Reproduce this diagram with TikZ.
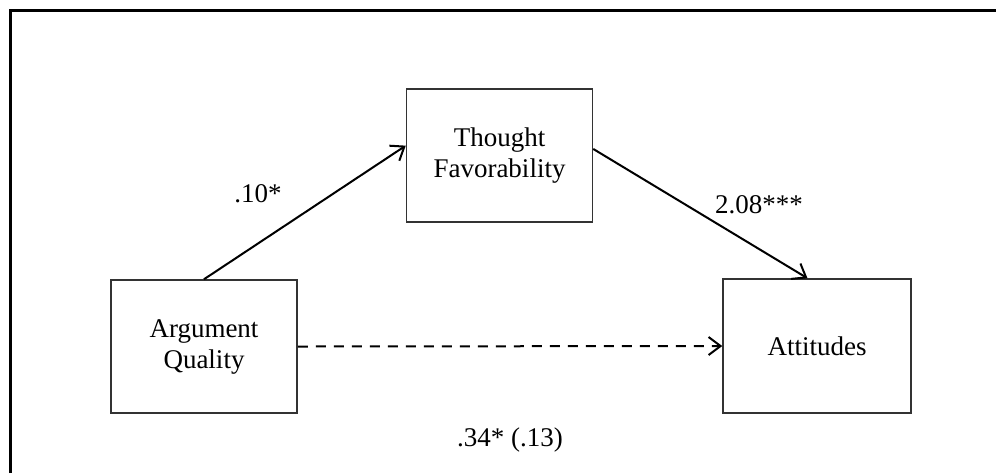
\documentclass[tikz,border=0pt]{standalone}
\usepackage{fontspec}
\setmainfont{Liberation Serif}
\usetikzlibrary{arrows.meta}

\begin{document}
\begin{tikzpicture}[x=0.5pt, y=-0.5pt,
    box/.style={draw=black!80, line width=0.75pt, minimum width=93pt, minimum height=66.5pt, align=center, font=\fontsize{13.5}{15.5}\selectfont},
    link/.style={line width=1pt, -{Straight Barb[length=6pt,width=9pt]}},
    lbl/.style={font=\fontsize{13.5}{15.5}\selectfont}]
    \useasboundingbox (0,0) rectangle (996,473);

    % Frame
    \draw[line width=1.5pt] (10,473) -- (10,10) -- (996,10);

    % Variables
    \node[box] (tf) at (499.5,155.5) {Thought\\Favorability};
    \node[box] (aq) at (204,346.5) {Argument\\Quality};
    \node[box, minimum width=94pt, minimum height=67pt] (att) at (817,346) {Attitudes};

    % Paths
    \draw[link] (aq.north) -- (tf.174);
    \draw[link] (tf.4) -- (att.98);
    \draw[link, dash pattern=on 5pt off 4pt] (aq.east) -- (att.west);

    % Coefficients
    \node[lbl] (a) at (258,194) {.10*};
    \node[lbl] (b) at (759,205) {2.08***};
    \node[lbl] (c) at (510,440) {.34* (.13)};
\end{tikzpicture}
\end{document}
